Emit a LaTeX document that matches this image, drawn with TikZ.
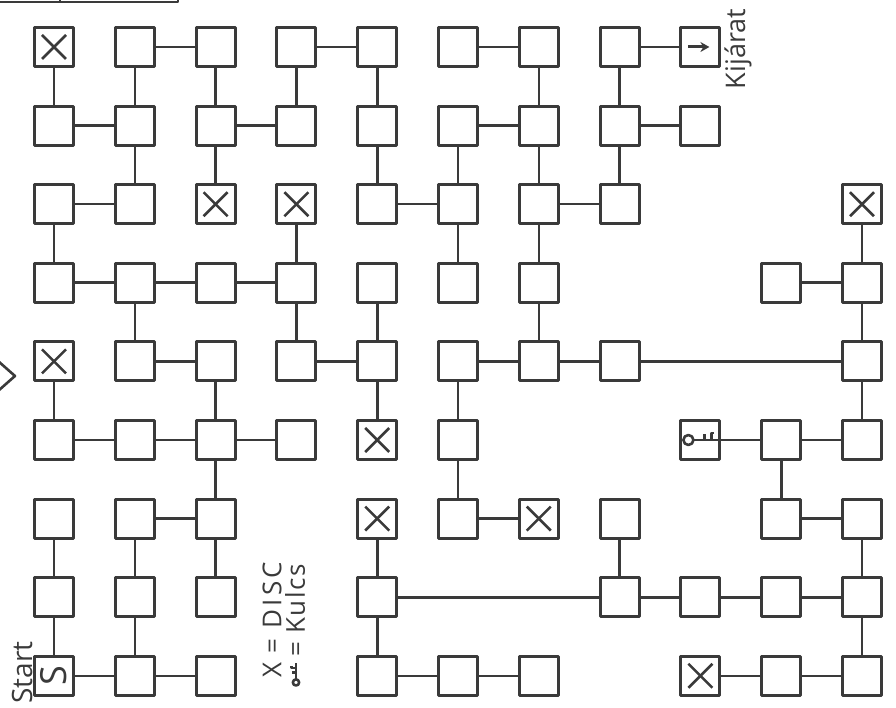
\documentclass[tikz,border=0pt]{standalone}
\usepackage{fontspec}
\setsansfont{Open Sans}
\usetikzlibrary{arrows.meta}

\definecolor{tinta}{HTML}{3A3A3A}

\tikzset{
	szoba/.style={draw=tinta, line width=3pt, minimum size=39pt, inner sep=0pt},
	ut/.style={draw=tinta, line width=2.6pt},
	felirat/.style={text=tinta, font=\sffamily, rotate=90, inner sep=0pt},
	kulcs/.pic={
		\draw[ut] (-12,0) circle (5);
		\draw[ut] (-7,0) -- (19.5,0);
		\draw[ut] (4,0) -- (4,6);
		\draw[ut] (11,0) -- (11,7) -- (14,7);
	}
}

\begin{document}
\begin{tikzpicture}[x=1pt, y=1pt, >=Stealth, line join=round]
		
		\useasboundingbox (0,0) rectangle (896,707);
		\clip (0,0) rectangle (896,707);
		
		% --- LAP SZÉLÉN LEVÁGOTT RÉSZEK ---
		\draw[ut] (0,705) -- (178,705) -- (178,712);
		\draw[ut] (60,705) -- (60,712);
		\draw[ut] (-2,346) -- (15,331) -- (-2,316); % bejárat jele
		
		% --- SZOBÁK (oszlop, sor) ---
		\foreach \r/\oszlopok in {0/{0,1,2,3,4,5,6,7,8}, 1/{0,1,2,3,4,5,6,7,8},
			2/{0,1,2,3,4,5,6,7,10}, 3/{0,1,2,3,4,5,6,9,10}, 4/{0,1,2,3,4,5,6,7,10},
			5/{0,1,2,3,4,5,8,9,10}, 6/{0,1,2,4,5,6,7,9,10}, 7/{0,1,2,4,7,8,9,10},
			8/{0,1,2,4,5,6,8,9,10}}
		{
			\foreach \c in \oszlopok
				\node[szoba] (s\c-\r) at ({54+80.8*\c},{660-78.6*\r}) {};
		}
		
		% --- VÍZSZINTES UTAK (sor/ettől/eddig) ---
		\foreach \r/\a/\b in {0/1/2,0/3/4,0/5/6,0/7/8,
			1/0/1,1/2/3,1/5/6,1/7/8,
			2/0/1,2/4/5,2/6/7,
			3/0/1,3/1/2,3/2/3,3/9/10,
			4/1/2,4/3/4,4/5/6,4/6/7,4/7/10,
			5/0/1,5/1/2,5/2/3,5/8/9,5/9/10,
			6/1/2,6/5/6,6/9/10,
			7/4/7,7/7/8,7/8/9,7/9/10,
			8/0/1,8/1/2,8/4/5,8/5/6,8/8/9,8/9/10}
			\draw[ut] (s\a-\r) -- (s\b-\r);
		
		% --- FÜGGŐLEGES UTAK (oszlop/sor -> sor+1) ---
		\foreach \c/\r in {0/0,1/0,2/0,3/0,4/0,6/0,7/0,
			1/1,2/1,4/1,5/1,6/1,7/1,
			0/2,3/2,5/2,6/2,10/2,
			1/3,3/3,4/3,6/3,10/3,
			0/4,2/4,4/4,5/4,10/4,
			2/5,5/5,9/5,
			0/6,1/6,2/6,4/6,7/6,10/6,
			0/7,1/7,4/7,10/7}
		{
			\pgfmathtruncatemacro\q{\r+1}
			\draw[ut] (s\c-\r) -- (s\c-\q);
		}
		
		% --- DISC HELYEK (X) ---
		\foreach \c/\r in {0/0,2/2,3/2,10/2,0/4,4/5,4/6,6/6,8/8}
		{
			\draw[ut] ([shift={(-12,-12)}]s\c-\r.center) -- ([shift={(12,12)}]s\c-\r.center);
			\draw[ut] ([shift={(-12,12)}]s\c-\r.center) -- ([shift={(12,-12)}]s\c-\r.center);
		}
		
		% --- START, KIJÁRAT, KULCS ---
		\node[felirat, font=\sffamily\fontsize{36}{36}\selectfont] (startbetu) at (s0-8.center) {S};
		\node[felirat, anchor=west, font=\sffamily\fontsize{28}{28}\selectfont] (start) at (22,3) {Start};
		\draw[ut, line width=3pt, -{Stealth[length=9pt, width=10pt]}] ([xshift=-12pt]s8-0.center) -- ([xshift=9pt]s8-0.center);
		\node[felirat, font=\sffamily\fontsize{27}{27}\selectfont] (kijarat) at (738,658) {Kijárat};
		\pic at (s8-5.center) {kulcs};
		
		% --- JELMAGYARÁZAT ---
		\node[felirat, font=\sffamily\fontsize{26}{26}\selectfont\addfontfeature{LetterSpace=12}] (jelx) at (272,87) {X = DISC};
		\node[felirat, anchor=west, font=\sffamily\fontsize{26}{26}\selectfont\addfontfeature{LetterSpace=6}] (jelk) at (295,50) {= Kulcs};
		\pic[rotate=90, scale=0.62] at (296,32) {kulcs};
		
	\end{tikzpicture}
\end{document}
